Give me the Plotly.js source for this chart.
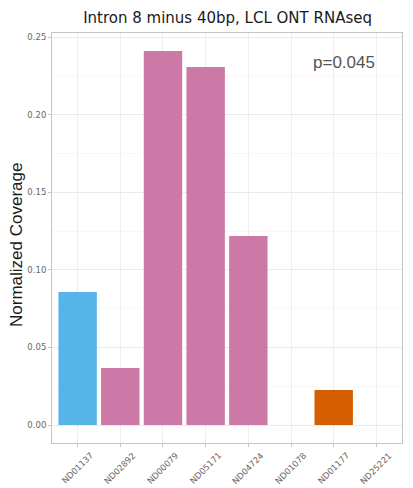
<!DOCTYPE html>
<html>
<head>
<meta charset="utf-8">
<script src="https://cdn.plot.ly/plotly-3.0.1.min.js"></script>
<style>html,body{margin:0;padding:0;background:#fff;}#chart{width:413px;height:488px;}</style>
</head>
<body>
<div id="chart"></div>
<script>
const samples = ["ND01137","ND02892","ND00079","ND05171","ND04724","ND01078","ND01177","ND25221"];
const coverage = [0.0857, 0.0367, 0.2410, 0.2307, 0.1218, 0, 0.0226, 0];
const barColors = ["#56B4E9","#CC79A7","#CC79A7","#CC79A7","#CC79A7","#CC79A7","#D55E00","#D55E00"];
const yTicks = [0, 0.05, 0.10, 0.15, 0.20, 0.25];
const yTickText = ["0.00","0.05","0.10","0.15","0.20","0.25"];
const pText = "p=0.045";
const yTitle = "Normalized Coverage";

const xIdx = samples.map((s, i) => i);
const trace = {
  type: "bar",
  x: xIdx,
  y: coverage,
  width: 0.9,
  marker: {color: barColors, line: {width: 0}},
  hoverinfo: "x+y"
};

const xLabelAnns = samples.map((s, i) => ({
  text: s, xref: "x", yref: "paper", x: i, y: -0.062, xanchor: "center", yanchor: "middle",
  textangle: -45, showarrow: false, font: {family: "DejaVu Sans, sans-serif", size: 8.5, color: "#666666"}
}));

const layout = {
  width: 413, height: 488,
  margin: {l: 52, r: 11, t: 33, b: 45},
  paper_bgcolor: "#fff", plot_bgcolor: "#fff",
  font: {family: "DejaVu Sans, sans-serif"},
  title: {text: "Intron 8 minus 40bp, LCL ONT RNAseq", x: 0.551, xanchor: "center", y: 0.963, yanchor: "middle",
          font: {family: "DejaVu Sans, sans-serif", size: 15, color: "#1a1a1a"}},
  showlegend: false,
  xaxis: {
    range: [-0.6, 7.6], tickvals: xIdx, showticklabels: false,
    showgrid: true, gridcolor: "#e3e3e3", gridwidth: 0.6,
    ticks: "outside", ticklen: 3, tickcolor: "#c4c4c4",
    showline: true, linecolor: "#c4c4c4", linewidth: 1, mirror: true, zeroline: false, fixedrange: true
  },
  yaxis: {
    range: [-0.0116, 0.2526], tickvals: yTicks, ticktext: yTickText,
    tickfont: {family: "DejaVu Sans, sans-serif", size: 8.5, color: "#666666"},
    showgrid: true, gridcolor: "#e3e3e3", gridwidth: 0.6,
    minor: {dtick: 0.025, showgrid: true, gridcolor: "#f0f0f0", gridwidth: 0.5},
    ticks: "outside", ticklen: 3, tickcolor: "#c4c4c4",
    showline: true, linecolor: "#c4c4c4", linewidth: 1, mirror: true, zeroline: false,
    fixedrange: true
  },
  annotations: [{
    text: pText, xref: "paper", yref: "paper", x: 0.835, y: 0.928, xanchor: "center", yanchor: "middle",
    showarrow: false, font: {family: "Liberation Sans, Arial, sans-serif", size: 17, color: "#555555"}
  }, {
    text: yTitle, xref: "paper", yref: "paper", x: -0.1, y: 0.483, xanchor: "center", yanchor: "middle",
    textangle: -90, showarrow: false, font: {family: "Liberation Sans, Arial, sans-serif", size: 17, color: "#1a1a1a"}
  }].concat(xLabelAnns)
};

Plotly.newPlot("chart", [trace], layout, {displayModeBar: false, staticPlot: true});
</script>
</body>
</html>
